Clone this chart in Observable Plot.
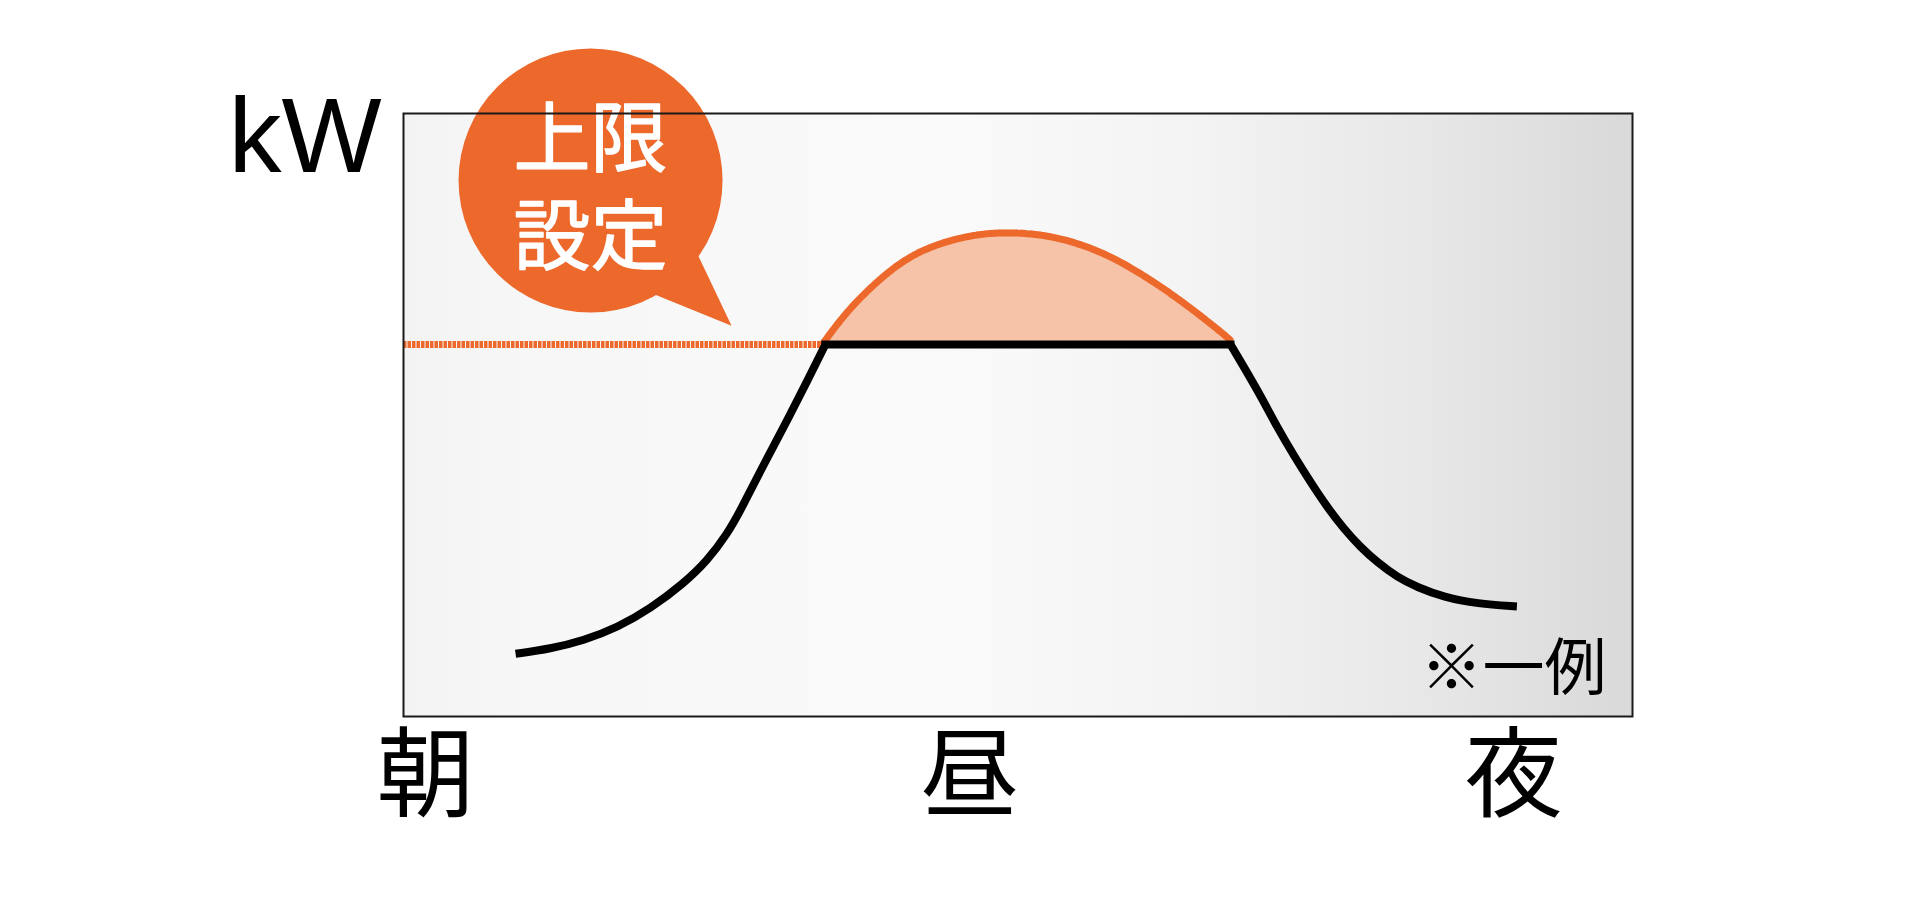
<!DOCTYPE html>
<html><head><meta charset="utf-8">
<script src="https://cdn.jsdelivr.net/npm/d3@7"></script>
<script src="https://cdn.jsdelivr.net/npm/@observablehq/plot@0.6"></script>
<style>html,body{margin:0;padding:0;background:#fff;} #chart svg{display:block}</style>
</head><body><div id="chart"></div>
<script>
// ---- data (x: hour of day, y: kW in relative units 0-100) ----
const periodTicks = [6, 12, 18];
const periodLabels = ["朝", "昼", "夜"];
const xDomain = [5.757, 19.312];
const yDomain = [0, 100];
const capKW = 61.7;

const riseHour = [6.993, 7.379, 7.743, 8.118, 8.482, 8.846, 9.110, 9.331, 9.474, 9.695, 9.948, 10.213, 10.41];
const riseKW   = [10.40, 11.23, 12.60, 14.76, 17.91, 22.06, 25.87, 30.35, 34.16, 40.80, 47.93, 55.72, 61.7];
const plateauHour = [10.41, 14.878];
const fallHour = [14.878, 15.025, 15.209, 15.393, 15.577, 15.761, 15.945, 16.128, 16.312, 16.496, 16.717, 16.938, 17.231, 17.599, 18.037];
const fallKW   = [61.7, 58.0, 53.23, 47.98, 43.28, 38.86, 34.71, 31.13, 28.08, 25.59, 23.10, 21.44, 19.78, 18.69, 18.24];

const demandHour = [10.39, 10.65, 11.02, 11.38, 11.76, 12.12, 12.49, 12.86, 13.22, 13.59, 13.96, 14.33, 14.69, 14.88];
const demandKW   = [62.0, 67.3, 72.8, 76.8, 78.9, 80.1, 80.3, 79.8, 78.4, 76.1, 72.8, 69.0, 64.8, 62.4];

const unitLabel = "kW";
const calloutLines = ["上限", "設定"];
const calloutHour = 7.82, calloutKW = 88.9;
const tailHour = [8.945, 9.375, 8.426];
const tailKW   = [78.4, 64.8, 70.6];
const noteText = "※一例";

// ---- build tables ----
const zip = (xs, ys) => xs.map((h, i) => ({h, kw: ys[i]}));
const rise = zip(riseHour, riseKW);
const plateau = plateauHour.map(h => ({h, kw: capKW}));
const fall = zip(fallHour, fallKW);
const demand = zip(demandHour, demandKW).map(d => ({...d, cap: capKW}));
const tail = zip(tailHour, tailKW);

const ORANGE = "#EC682B";
const PEACH = "#F6C3A9";
const CJK = "'Noto Sans CJK JP', 'Noto Sans CJK SC', sans-serif";
const DASH = "3.5,1";

const svg = Plot.plot({
  width: 1920, height: 904,
  marginLeft: 403, marginRight: 288, marginTop: 113, marginBottom: 188,
  x: {domain: xDomain, axis: null},
  y: {domain: yDomain, axis: null},
  style: {background: "#fff", overflow: "visible"},
  marks: [
    Plot.frame({fill: "url(#bgGrad)", stroke: "none"}),
    Plot.areaY(demand, {x: "h", y1: "cap", y2: "kw", fill: PEACH, curve: "basis"}),
    Plot.line(demand, {x: "h", y: "kw", stroke: ORANGE, strokeWidth: 7, strokeDasharray: DASH, curve: "basis"}),
    Plot.ruleY([{kw: capKW, x1: xDomain[0], x2: riseHour[riseHour.length - 1]}],
      {y: "kw", x1: "x1", x2: "x2", stroke: ORANGE, strokeWidth: 7, strokeDasharray: DASH}),
    Plot.line(rise, {x: "h", y: "kw", stroke: "#000", strokeWidth: 8, curve: "basis", strokeLinecap: "butt"}),
    Plot.line(fall, {x: "h", y: "kw", stroke: "#000", strokeWidth: 8, curve: "basis", strokeLinecap: "butt"}),
    Plot.line(plateau, {x: "h", y: "kw", stroke: "#000", strokeWidth: 8, strokeLinecap: "square"}),
    // callout bubble
    Plot.line(tail, {x: "h", y: "kw", fill: ORANGE, stroke: "none"}),
    Plot.dot([{h: calloutHour, kw: calloutKW}], {x: "h", y: "kw", r: 132, fill: ORANGE, stroke: "none"}),
    Plot.text([{h: calloutHour, kw: calloutKW, t: calloutLines.join("\n")}], {x: "h", y: "kw", text: "t", dy: 3,
      fill: "#fff", stroke: "#fff", strokeWidth: 1.3, fontSize: 77, lineHeight: 1.273, fontWeight: 400, fontFamily: CJK}),
    // unit label
    Plot.text([{h: xDomain[0], kw: yDomain[1], t: unitLabel}], {x: "h", y: "kw", text: "t",
      textAnchor: "end", lineAnchor: "bottom", dx: -22, dy: 58, fontSize: 106,
      fontFamily: "'Liberation Sans', Arial, sans-serif", fill: "#000"}),
    // note
    Plot.text([{h: xDomain[1], kw: yDomain[0], t: noteText}], {x: "h", y: "kw", text: "t",
      textAnchor: "end", lineAnchor: "bottom", dx: -26, dy: -27, fontSize: 62, fontFamily: CJK, fill: "#000"}),
    // x axis
    Plot.axisX(periodTicks, {tickFormat: d => periodLabels[periodTicks.indexOf(d)], tickSize: 0, tickPadding: 23,
      fontSize: 98, fontFamily: CJK, fill: "#000", label: null}),
    Plot.frame({stroke: "#1a1a1a", strokeWidth: 2})
  ]
});

// horizontal background gradient for the plotting frame
const defs = d3.select(svg).insert("defs", ":first-child");
const grad = defs.append("linearGradient").attr("id", "bgGrad").attr("x1", "0%").attr("x2", "100%").attr("y1", "0%").attr("y2", "0%");
[[0, "#f3f3f3"], [0.1, "#f7f7f7"], [0.45, "#fafafa"], [0.65, "#f3f3f3"], [0.85, "#e6e6e6"], [1, "#d9d9d9"]]
  .forEach(([o, c]) => grad.append("stop").attr("offset", o).attr("stop-color", c));

document.getElementById("chart").appendChild(svg);
</script></body></html>
